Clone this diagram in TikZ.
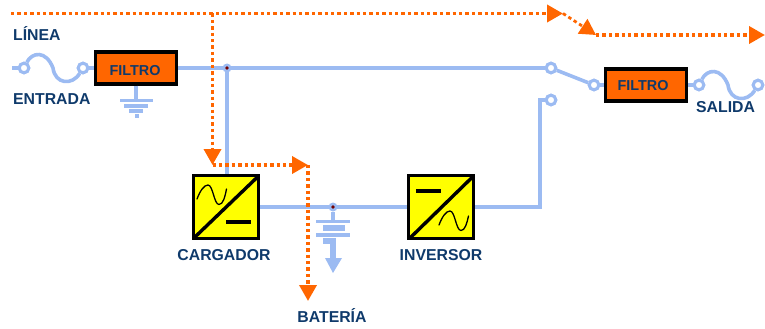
\documentclass[tikz,border=0pt]{standalone}
\usepackage{fontspec}
\setmainfont{Liberation Sans}
\usetikzlibrary{arrows.meta}
\definecolor{wire}{HTML}{9CBBF2}
\definecolor{orng}{HTML}{FF6600}
\definecolor{lbl}{HTML}{0F3A6B}
\definecolor{yel}{HTML}{FFFF00}
\tikzset{
  x=1pt,y=-1pt,
  wireline/.style={draw=wire,line width=3.6pt},
  flow/.style={draw=orng,line width=3.6pt,dash pattern=on 3.4pt off 3pt},
  flowtip/.style={-{Triangle[length=16pt,width=17pt,fill=orng,color=orng]}},
  term/.style={circle,draw=wire,line width=3pt,fill=white,minimum size=9.5pt,inner sep=0pt},
  junc/.style={circle,fill=wire,minimum size=9pt,inner sep=0pt},
  filterbox/.style={rectangle,draw=black,line width=3.2pt,fill=orng,minimum width=81pt,minimum height=32pt,inner sep=0pt},
  filtertext/.style={text=lbl,font=\bfseries\fontsize{14.4}{15}\selectfont,inner sep=0pt},
  convbox/.style={rectangle,draw=black,line width=3.4pt,fill=yel,minimum width=65.5pt,minimum height=63.5pt,inner sep=0pt},
  label/.style={text=lbl,font=\bfseries\fontsize{15.8}{16}\selectfont,inner sep=0pt},
  barline/.style={draw=wire},
  sine/.style={draw=black,line width=1.3pt,line cap=round},
  thickbar/.style={draw=black,line width=4.4pt},
}
\begin{document}
\begin{tikzpicture}
\useasboundingbox (0,0) rectangle (765,329);
% nodes
\node[filterbox] (f1) at (136,68) {};
\node[filterbox] (f2) at (646,85) {};
\node[convbox] (cg) at (226,207) {};
\node[convbox] (iv) at (441,207) {};
\node[term] (t1) at (24,68) {};
\node[term] (t2) at (83,68) {};
\node[term] (t3) at (699,85) {};
\node[term] (t4) at (758,85) {};
\node[term] (s1) at (551,68) {};
\node[term] (s2) at (594,85) {};
\node[term] (s3) at (551,100) {};
\coordinate (in) at (12,68);
\coordinate (jt) at (227,68);
\coordinate (jb) at (333,207);
\coordinate (g0) at (136,100);
\coordinate (bend) at (540,100);
\coordinate (bat1) at (333,221);
\coordinate (bat2) at (333,258);
\coordinate (bat3) at (333,273);
% wires
\draw[wireline] (in) -- (t1.west);
\draw[wireline] (t2) -- (f1.west);
\draw[wireline] (f1.east) -- (s1.west);
\draw[wireline] (jt) -- (jt |- cg.north);
\draw[wireline] (s1) -- (s2);
\draw[wireline] (s2.east) -- (f2.west);
\draw[wireline] (f2.east) -- (t3.west);
\draw[wireline] (s3.west) -- (bend) -- (bend |- iv.east) -- (iv.east);
\draw[wireline] (cg.east) -- (iv.west);
% fuses
\draw[wireline] (t1) .. controls (32,52) and (46,50) .. (53,68) .. controls (55,84) and (72,86) .. (t2);
\draw[wireline] (t3) .. controls (707,69) and (721,67) .. (728,85) .. controls (730,101) and (747,103) .. (t4);
\node[term] at (t1) {};
\node[term] at (t2) {};
\node[term] at (t3) {};
\node[term] at (t4) {};
\node[term] at (s1) {};
\node[term] at (s2) {};
\node[term] at (s3) {};
% box redraw over wires
\node[filterbox] at (f1) {};
\node[filterbox] at (f2) {};
\node[convbox] at (cg) {};
\node[convbox] at (iv) {};
\node[filtertext] (ft1) at (135,71) {FILTRO};
\node[filtertext] (ft2) at (643,86) {FILTRO};
% ground
\draw[wireline,line width=4pt] (f1.south) -- (g0);
\draw[barline,line width=3.6pt] (120,100.5) -- (153,100.5);
\draw[barline,line width=4.6pt] (124,106) -- (148,106);
\draw[barline,line width=4.6pt] (129,111) -- (143,111);
\draw[barline,line width=4pt] (136.5,114) -- (136.5,118);
% junctions
\node[junc] (j1) at (jt) {};
\fill[red!45!black] (jt) circle (1.8pt);
\node[junc] (j2) at (jb) {};
\fill[red!45!black] (jb) circle (1.8pt);
% battery
\draw[wireline] (j2) -- (bat1);
\draw[barline,line width=3.8pt] (316,221.5) -- (350,221.5);
\draw[barline,line width=5.4pt] (323,228) -- (345,228);
\draw[barline,line width=4.2pt] (316,235) -- (350,235);
\draw[barline,line width=5.4pt] (323,241) -- (336,241);
\draw[wire,line width=5.4pt] (bat2 |- 0,242) -- (bat2);
\fill[wire] (325,258) -- (342,258) -- (bat3) -- cycle;
% converter symbols
\draw[black,line width=3.4pt] (195,237) -- (258,176.5);
\draw[sine] (197,199) .. controls (200,191) and (204,185) .. (208,185) .. controls (213,185) and (214,204.5) .. (219,204.5) .. controls (223,204.5) and (225,197) .. (226.5,189);
\draw[thickbar] (226,222) -- (251,222);
\draw[black,line width=3.4pt] (410,238) -- (473,176.5);
\draw[sine] (439,225) .. controls (442,217) and (446,211) .. (450,211) .. controls (455,211) and (456,230.5) .. (461,230.5) .. controls (465,230.5) and (467,223) .. (468.5,216);
\draw[thickbar] (416,191) -- (441,191);
% flows
\coordinate (a0) at (11,13.5);
\coordinate (a1) at (212.5,13.5);
\coordinate (a2) at (563,13.5);
\coordinate (a3) at (596,35);
\coordinate (a4) at (765,35);
\coordinate (a5) at (212.5,165);
\coordinate (a6) at (308,165);
\coordinate (a7) at (308,301);
\draw[flow,flowtip] (a0) -- (a2);
\draw[flow,flowtip,line width=2.8pt] (a2) -- (a3);
\draw[flow,flowtip] (a3) -- (a4);
\draw[flow,flowtip] (a1) -- (a5);
\draw[flow,flowtip] (a5) -- (a6);
\draw[flow,flowtip] (a6) -- (a7);
% labels
\node[label,anchor=west] (l1) at (13,33) {LÍNEA};
\node[label,anchor=west] (l2) at (13,99.5) {ENTRADA};
\node[label,anchor=west] (l3) at (696,107.5) {SALIDA};
\node[label] (l4) at (224,255.5) {CARGADOR};
\node[label] (l5) at (441,255.5) {INVERSOR};
\node[label] (l6) at (332,315.5) {BATERÍA};
\end{tikzpicture}
\end{document}
